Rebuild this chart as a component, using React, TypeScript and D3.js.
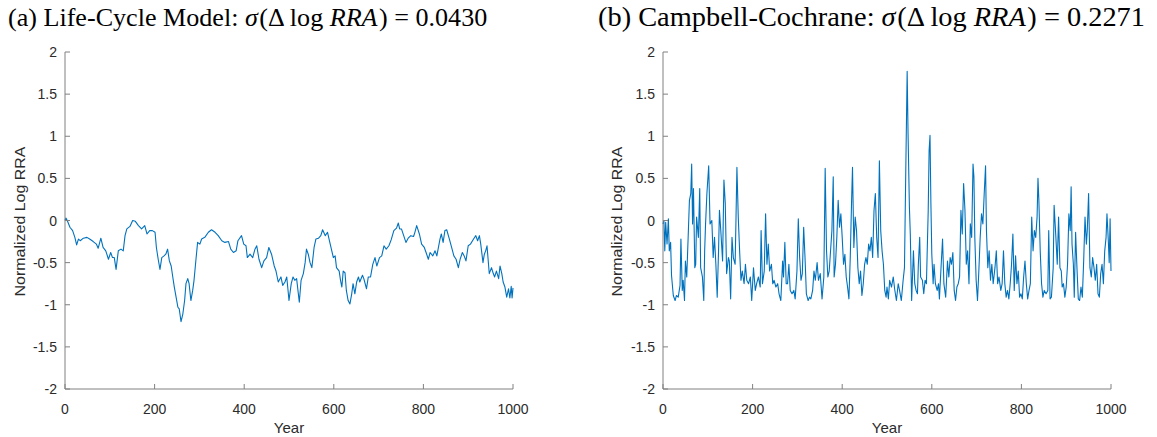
import React from "react";
import * as d3 from "d3";

// ---- Data ----
const lcYears = [0, 2, 5, 11, 17, 22, 26, 30, 34, 41, 49, 55, 63, 70, 74, 80, 85, 91, 97, 102, 106, 110, 114, 119, 125, 130, 134, 138, 145, 151, 157, 164, 171, 178, 183, 189, 195, 201, 204, 208, 212, 216, 221, 225, 229, 233, 237, 240, 244, 248, 252, 255, 259, 263, 267, 270, 274, 277, 281, 285, 288, 292, 296, 301, 305, 312, 320, 327, 335, 342, 350, 357, 365, 370, 376, 382, 386, 394, 399, 404, 407, 413, 419, 424, 428, 433, 439, 444, 450, 455, 461, 467, 471, 476, 482, 486, 491, 495, 500, 505, 509, 513, 517, 523, 527, 532, 536, 539, 543, 547, 551, 556, 560, 566, 571, 575, 581, 586, 592, 599, 603, 606, 612, 615, 618, 621, 625, 628, 632, 636, 640, 643, 647, 651, 655, 658, 664, 667, 673, 677, 682, 687, 692, 696, 702, 707, 712, 717, 723, 728, 734, 740, 744, 747, 751, 756, 761, 766, 772, 778, 781, 785, 791, 796, 802, 806, 811, 815, 821, 826, 830, 837, 840, 844, 848, 852, 858, 863, 868, 873, 878, 882, 887, 891, 895, 900, 905, 912, 917, 921, 925, 928, 933, 936, 939, 942, 947, 952, 956, 959, 963, 968, 971, 975, 978, 982, 986, 990, 993, 996, 998, 1000];
const lcValues = [0.0, 0.03, 0.0, -0.08, -0.12, -0.2, -0.29, -0.22, -0.24, -0.21, -0.2, -0.22, -0.25, -0.28, -0.33, -0.21, -0.32, -0.36, -0.46, -0.38, -0.44, -0.44, -0.58, -0.36, -0.34, -0.36, -0.18, -0.1, -0.07, 0.0, -0.01, -0.06, -0.1, -0.06, -0.16, -0.12, -0.12, -0.14, -0.32, -0.46, -0.58, -0.44, -0.42, -0.4, -0.34, -0.48, -0.54, -0.65, -0.79, -0.91, -1.03, -1.05, -1.2, -1.11, -0.95, -0.75, -0.69, -0.75, -0.95, -0.83, -0.71, -0.48, -0.26, -0.28, -0.22, -0.2, -0.14, -0.11, -0.14, -0.18, -0.24, -0.26, -0.25, -0.34, -0.38, -0.36, -0.24, -0.18, -0.28, -0.3, -0.44, -0.4, -0.44, -0.34, -0.3, -0.46, -0.56, -0.48, -0.44, -0.32, -0.4, -0.54, -0.6, -0.73, -0.67, -0.77, -0.73, -0.67, -0.95, -0.75, -0.67, -0.71, -0.69, -0.97, -0.71, -0.63, -0.5, -0.34, -0.4, -0.5, -0.56, -0.32, -0.22, -0.21, -0.18, -0.11, -0.18, -0.14, -0.28, -0.44, -0.42, -0.56, -0.6, -0.71, -0.79, -0.6, -0.62, -0.83, -0.95, -0.99, -0.87, -0.75, -0.87, -0.73, -0.67, -0.73, -0.65, -0.69, -0.81, -0.67, -0.67, -0.52, -0.44, -0.54, -0.44, -0.42, -0.3, -0.34, -0.3, -0.23, -0.12, -0.09, -0.03, -0.1, -0.1, -0.18, -0.26, -0.21, -0.18, -0.19, -0.14, -0.06, -0.16, -0.28, -0.32, -0.38, -0.46, -0.38, -0.42, -0.36, -0.42, -0.22, -0.16, -0.26, -0.12, -0.11, -0.22, -0.32, -0.42, -0.46, -0.56, -0.46, -0.38, -0.42, -0.48, -0.3, -0.28, -0.22, -0.18, -0.24, -0.18, -0.28, -0.5, -0.4, -0.36, -0.3, -0.63, -0.56, -0.63, -0.67, -0.6, -0.69, -0.54, -0.63, -0.73, -0.79, -0.91, -0.81, -0.92, -0.78, -0.92, -0.8];

const ccYears = [0, 2, 4, 6, 9, 12, 14, 17, 19, 23, 27, 30, 34, 38, 40, 43, 45, 48, 50, 53, 56, 59, 62, 64, 66, 68, 71, 73, 75, 79, 82, 84, 88, 91, 93, 95, 98, 102, 105, 109, 112, 115, 118, 121, 124, 126, 129, 133, 136, 139, 142, 146, 148, 151, 154, 157, 161, 163, 165, 168, 171, 174, 177, 181, 184, 187, 191, 195, 198, 202, 206, 209, 213, 217, 219, 222, 226, 229, 232, 235, 238, 242, 245, 248, 252, 256, 259, 263, 267, 269, 272, 275, 278, 281, 284, 288, 292, 295, 299, 302, 305, 308, 311, 314, 317, 320, 324, 327, 330, 334, 337, 340, 344, 347, 351, 355, 359, 362, 365, 368, 371, 374, 377, 380, 382, 385, 388, 391, 394, 397, 400, 403, 406, 409, 412, 415, 418, 421, 423, 426, 429, 432, 435, 438, 441, 444, 447, 450, 453, 456, 459, 462, 465, 468, 471, 474, 477, 480, 483, 486, 489, 492, 495, 498, 500, 503, 506, 510, 514, 517, 521, 525, 528, 532, 536, 539, 542, 545, 547, 550, 552, 555, 559, 562, 565, 568, 570, 573, 575, 579, 582, 585, 588, 592, 594, 596, 598, 600, 603, 605, 608, 612, 615, 617, 621, 624, 627, 631, 635, 638, 641, 644, 647, 650, 653, 656, 659, 662, 665, 668, 671, 674, 677, 680, 683, 686, 689, 692, 694, 696, 699, 702, 705, 708, 711, 714, 717, 720, 722, 725, 728, 731, 734, 737, 741, 744, 747, 750, 754, 757, 760, 763, 766, 769, 772, 775, 778, 781, 784, 787, 790, 793, 796, 799, 802, 805, 808, 811, 814, 817, 820, 823, 826, 829, 832, 835, 837, 839, 842, 845, 848, 851, 855, 859, 861, 864, 867, 871, 873, 877, 880, 883, 886, 889, 891, 894, 897, 900, 903, 906, 909, 911, 913, 916, 918, 921, 924, 927, 930, 933, 936, 939, 942, 945, 947, 950, 953, 956, 959, 962, 965, 968, 971, 974, 977, 980, 983, 986, 989, 991, 994, 996, 998, 1000];
const ccValues = [-0.04, 0, -0.36, -0.02, -0.28, 0.02, -0.36, -0.26, -0.65, -0.89, -0.95, -0.89, -0.91, -0.77, -0.22, -0.83, -0.71, -0.95, -0.48, -0.67, -0.22, 0.24, 0.32, 0.67, -0.04, 0.38, -0.56, -0.52, 0.04, -0.2, 0.38, -0.56, -0.67, -0.95, -0.36, -0.04, 0.32, 0.65, -0.04, 0, -0.44, -0.2, -0.52, -0.91, -0.36, 0.12, -0.12, -0.48, 0.48, 0.2, -0.63, -0.44, -0.48, -0.93, -0.2, -0.44, -0.52, 0.04, 0.63, 0.04, -0.36, -0.71, -0.6, -0.75, -0.52, -0.71, -0.75, -0.67, -0.95, -0.56, -0.83, -0.75, -0.67, -0.79, -0.12, -0.75, -0.6, 0.08, -0.52, -0.28, -0.6, -0.52, -0.75, -0.71, -0.79, -0.75, -0.87, -0.95, -0.48, -0.67, -0.26, -0.75, -0.75, -0.52, -0.83, -0.87, -0.83, -0.93, -0.6, 0.02, -0.44, -0.71, -0.63, -0.08, -0.44, -0.87, -0.95, -0.91, -0.93, -0.83, -0.6, -0.71, -0.5, -0.71, -0.63, -0.93, -0.67, 0.62, -0.36, -0.67, -0.6, -0.36, -0.12, 0.52, -0.67, -0.52, -0.2, 0.24, -0.08, 0.08, -0.2, -0.52, -0.4, -0.67, -0.79, -0.93, -0.44, 0.24, 0.63, -0.32, 0.04, -0.12, -0.56, -0.75, -0.6, -0.89, -0.75, -0.52, -0.44, -0.52, -0.28, -0.36, -0.2, -0.44, 0.12, 0.32, -0.2, -0.44, 0.71, -0.12, -0.36, -0.52, -0.83, -0.91, -0.79, -0.93, -0.71, -0.79, -0.67, -0.81, -0.95, -0.75, -0.83, -0.95, -0.71, -0.56, 0.63, 1.77, 1.03, 0.16, -0.16, -0.95, -0.36, -0.75, -0.83, -0.87, -0.52, -0.2, -0.67, -0.71, -0.87, -0.71, -0.75, 0.12, 0.83, 1.01, 0.2, -0.4, -0.75, -0.52, -0.75, -0.83, -0.75, -0.93, -0.52, -0.22, -0.75, -0.91, -0.48, -0.67, -0.44, -0.52, -0.38, -0.83, -0.95, -0.79, -0.75, -0.67, 0.12, -0.16, 0.44, 0.12, -0.52, -0.36, -0.75, -0.04, -0.2, 0.67, 0.52, -0.2, -0.71, -0.95, -0.6, -0.2, 0.08, -0.04, 0.32, 0.65, -0.12, -0.56, -0.36, -0.71, -0.52, -0.75, -0.56, -0.36, -0.75, -0.67, -0.83, -0.75, -0.36, -0.75, -0.91, -0.83, -0.93, -0.75, -0.52, -0.16, -0.83, -0.42, -0.75, -0.6, -0.91, -0.87, -0.93, -0.67, -0.48, -0.75, -0.93, -0.83, -0.75, 0.04, -0.36, -0.12, -0.2, 0.04, 0.5, 0.24, -0.36, -0.75, -0.91, -0.83, -0.87, -0.83, -0.12, -0.93, -0.91, -0.56, 0.18, -0.2, -0.52, 0.04, -0.56, -0.6, -0.79, -0.75, -0.91, -0.79, -0.52, 0.08, -0.12, 0.4, -0.28, -0.52, -0.91, -0.14, -0.56, -0.93, -0.95, -0.79, -0.91, -0.48, 0.04, -0.28, -0.12, 0.32, -0.56, -0.67, -0.44, -0.56, -0.71, -0.52, -0.87, -0.91, -0.63, -0.52, -0.75, -0.36, -0.2, 0.08, -0.24, -0.5, 0.02, -0.6];

const xTicks = [0, 200, 400, 600, 800, 1000];
const yTicks = [-2, -1.5, -1, -0.5, 0, 0.5, 1, 1.5, 2];

const xDomain: [number, number] = [0, 1000];
const yDomain: [number, number] = [-2, 2];

const xLabel = "Year";
const yLabel = "Normalized Log RRA";

// ---- Layout ----
const W = 1157;
const H = 437;
const TOP = 52;
const BOTTOM = 389;
const LINE_COLOR = "#0072BD";
const AXIS_COLOR = "#808080";
const TEXT_COLOR = "#2b2b2b";
const SANS = "'Liberation Sans', Arial, Helvetica, sans-serif";
const SERIF = "'Liberation Serif', 'Times New Roman', serif";

type PanelProps = {
  left: number;
  right: number;
  years: number[];
  values: number[];
  yLabelX: number;
};

function Panel({ left, right, years, values, yLabelX }: PanelProps) {
  const x = d3.scaleLinear().domain(xDomain).range([left, right]);
  const y = d3.scaleLinear().domain(yDomain).range([BOTTOM, TOP]);
  const pts: [number, number][] = years.map((yr, i) => [yr, values[i]]);
  const line = d3
    .line<[number, number]>()
    .x((d) => x(d[0]))
    .y((d) => y(d[1]));
  const tickLen = 5;
  return (
    <g>
      <path d={line(pts) || ""} fill="none" stroke={LINE_COLOR} strokeWidth={1.1} strokeLinejoin="round" />
      <line x1={left} x2={left} y1={TOP} y2={BOTTOM} stroke={AXIS_COLOR} strokeWidth={1} />
      <line x1={left} x2={right} y1={BOTTOM} y2={BOTTOM} stroke={AXIS_COLOR} strokeWidth={1} />
      {yTicks.map((t) => (
        <g key={"y" + t}>
          <line x1={left} x2={left + tickLen} y1={y(t)} y2={y(t)} stroke={AXIS_COLOR} strokeWidth={1} />
          <text
            x={left - 8}
            y={y(t)}
            textAnchor="end"
            dominantBaseline="central"
            fontFamily={SANS}
            fontSize={14}
            fill={TEXT_COLOR}
          >
            {String(t)}
          </text>
        </g>
      ))}
      {xTicks.map((t) => (
        <g key={"x" + t}>
          <line x1={x(t)} x2={x(t)} y1={BOTTOM} y2={BOTTOM - tickLen} stroke={AXIS_COLOR} strokeWidth={1} />
          <text x={x(t)} y={413.5} textAnchor="middle" fontFamily={SANS} fontSize={14} fill={TEXT_COLOR}>
            {String(t)}
          </text>
        </g>
      ))}
      <text
        x={(left + right) / 2}
        y={433}
        textAnchor="middle"
        fontFamily={SANS}
        fontSize={15}
        fill={TEXT_COLOR}
      >
        {xLabel}
      </text>
      <text
        transform={`translate(${yLabelX},${(TOP + BOTTOM) / 2 + 1}) rotate(-90)`}
        textAnchor="middle"
        fontFamily={SANS}
        fontSize={15}
        fill={TEXT_COLOR}
        textLength={150}
        lengthAdjust="spacingAndGlyphs"
      >
        {yLabel}
      </text>
    </g>
  );
}

function Title({ x, size, len, lead, val }: { x: number; size: number; len?: number; lead: string; val: string }) {
  const fit = len ? { textLength: len, lengthAdjust: "spacingAndGlyphs" } : {};
  return (
    <text x={x} y={26} fontFamily={SERIF} fontSize={size} fill="#000" {...fit}>
      <tspan>{lead}</tspan>
      <tspan fontStyle="italic">σ</tspan>
      <tspan dx={1.5}>{"(Δ log "}</tspan>
      <tspan fontStyle="italic">RRA</tspan>
      <tspan dx={1.5}>{") = " + val}</tspan>
    </text>
  );
}

export default function App() {
  return (
    <svg
      width={W}
      height={H}
      viewBox={`0 0 ${W} ${H}`}
      style={{ position: "absolute", left: 0, top: 0, background: "#fff" }}
    >
      <rect x={0} y={0} width={W} height={H} fill="#fff" />
      <Title x={8} size={26.1} lead="(a) Life-Cycle Model: " val="0.0430" />
      <Title x={598} size={27} len={547} lead="(b) Campbell-Cochrane: " val="0.2271" />
      <Panel left={65} right={513} years={lcYears} values={lcValues} yLabelX={25} />
      <Panel left={663} right={1111} years={ccYears} values={ccValues} yLabelX={622} />
    </svg>
  );
}
